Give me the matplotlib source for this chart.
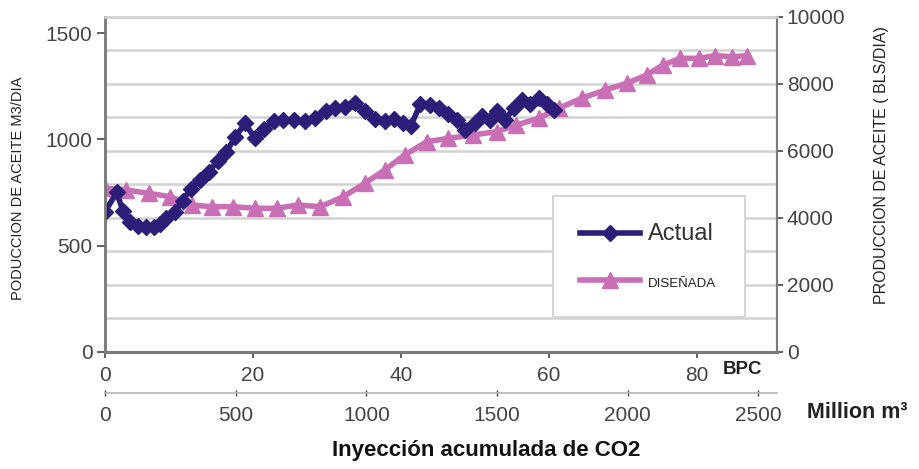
import matplotlib.pyplot as plt
from matplotlib.ticker import MultipleLocator

plt.rcParams["font.family"] = ["Liberation Sans", "DejaVu Sans"]

# Actual production (M3/DIA, left axis) vs cumulative CO2 injection (BPC)
actual_bpc = [0, 1.6, 2.4, 3.4, 4.4, 5.5, 6.6, 7.5, 8.3, 9.5, 10.5, 11.6, 12.8,
              14.0, 15.3, 16.4, 17.6, 18.9, 20.3, 21.5, 22.8, 24.1, 25.6, 27.0,
              28.4, 29.8, 31.1, 32.4, 33.8, 35.1, 36.5, 37.8, 39.1, 40.2, 41.3,
              42.6, 43.9, 45.1, 46.4, 47.6, 48.7, 50.0, 51.0, 52.0, 53.0, 54.1,
              55.2, 56.3, 57.4, 58.6, 59.7, 60.7]
actual_m3 = [660, 750, 665, 612, 590, 588, 588, 600, 632, 660, 712, 768, 808,
             848, 900, 942, 1010, 1075, 1005, 1050, 1088, 1090, 1090, 1085,
             1100, 1135, 1150, 1152, 1170, 1135, 1098, 1085, 1095, 1075, 1062,
             1165, 1160, 1150, 1122, 1090, 1045, 1075, 1110, 1090, 1135, 1090,
             1150, 1185, 1165, 1195, 1165, 1140]

# Designed production (BLS/DIA, right axis)
design_bpc = [0, 2.9, 5.9, 8.8, 11.7, 14.4, 17.3, 20.3, 23.2, 26.1, 29.1, 32.2,
              35.1, 37.8, 40.5, 43.5, 46.4, 49.7, 52.9, 55.6, 58.6, 61.3, 64.4,
              67.6, 70.5, 73.2, 75.4, 77.7, 80.2, 82.4, 84.7, 86.7]
design_bls = [4880, 4827, 4728, 4627, 4379, 4328, 4328, 4281, 4281, 4379, 4328,
              4627, 5027, 5424, 5872, 6269, 6370, 6469, 6567, 6767, 6967, 7266,
              7564, 7812, 8012, 8260, 8558, 8758, 8758, 8836, 8806, 8836]

BPC_TO_MM3 = 28.3168
grey = "#7a7a7a"
tick_col = "#444444"

fig = plt.figure(figsize=(9.2, 4.69), dpi=100)
ax = fig.add_axes([0.1141, 0.2501, 0.7305, 0.7143])
ax2 = ax.twinx()

# right axis (drawn underneath): grid + designed curve
ax2.set_ylim(0, 10000)
ax2.yaxis.set_major_locator(MultipleLocator(2000))
ax2.yaxis.set_minor_locator(MultipleLocator(1000))
ax2.grid(True, which="both", axis="y", color="#d2d2d2", linewidth=1.8)
ax2.set_axisbelow(True)
ln2, = ax2.plot(design_bpc, design_bls, color="#c96fb5", linewidth=4,
                marker="^", markersize=11, label="DISEÑADA")

# left axis on top: actual
ax.set_zorder(ax2.get_zorder() + 1)
ax.patch.set_visible(False)
ln1, = ax.plot(actual_bpc, actual_m3, color="#2b1d78", linewidth=4,
               marker="D", markersize=8.5, label="Actual")

ax.set_xlim(0, 90.8)
ax.set_ylim(0, 1578)
ax.xaxis.set_major_locator(MultipleLocator(20))
ax.yaxis.set_major_locator(MultipleLocator(500))

ax.tick_params(axis="y", labelsize=15, colors=tick_col, length=6, width=1.2,
               pad=3)
ax.tick_params(axis="x", labelsize=15, colors=tick_col, length=4, width=1.2,
               pad=6)
ax2.tick_params(axis="y", which="major", labelsize=15, colors=tick_col,
                length=4, width=1.2, pad=3)
ax2.tick_params(axis="y", which="minor", length=0)

for a in (ax, ax2):
    a.spines["top"].set_color("#d2d2d2")
    a.spines["top"].set_linewidth(1.8)
    a.spines["left"].set_color(grey)
    a.spines["left"].set_linewidth(1.8)
    a.spines["bottom"].set_color(grey)
    a.spines["bottom"].set_linewidth(2.2)
    a.spines["right"].set_color(grey)
    a.spines["right"].set_linewidth(1.5)

# secondary x axis in million m3
sec = ax.secondary_xaxis(-0.122, functions=(lambda x: x * BPC_TO_MM3,
                                            lambda x: x / BPC_TO_MM3))
sec.set_xticks([0, 500, 1000, 1500, 2000, 2500])
sec.spines["bottom"].set_color("#b5b5b5")
sec.spines["bottom"].set_linewidth(1.2)
sec.tick_params(labelsize=15, colors=tick_col, length=4, width=1.0,
                direction="inout", pad=8)

fig.text(0.786, 1 - 369 / 469, "BPC", fontsize=13.5, fontweight="bold",
         ha="left", va="center", color="#222222")
fig.text(0.877, 1 - 412 / 469, "Million m³", fontsize=15.5, fontweight="bold",
         ha="left", va="center", color="#222222")
fig.text(0.528, 1 - 450 / 469, "Inyección acumulada de CO2", fontsize=16,
         fontweight="bold", ha="center", va="center", color="#111111")
fig.text(0.020, 1 - 188 / 469, "PODUCCION DE ACEITE M3/DIA", fontsize=10.5,
         rotation=90, ha="center", va="center", color="#222222")
fig.text(0.958, 1 - 165 / 469, "PRODUCCION DE ACEITE ( BLS/DIA)", fontsize=11.5,
         rotation=90, ha="center", va="center", color="#222222")

leg = ax.legend(handles=[ln1, ln2], loc="lower left",
                bbox_to_anchor=(0.601, 0.324, 0.209, 0.260),
                bbox_transform=fig.transFigure, mode="expand",
                borderaxespad=0, fontsize=15, numpoints=1, handlelength=2.9,
                handletextpad=0.35, labelspacing=1.3, borderpad=1.3,
                fancybox=False, framealpha=1, edgecolor="#d6d6d6")
leg.get_frame().set_linewidth(1.5)
leg.get_texts()[0].set_fontsize(17)
leg.get_texts()[0].set_color("#333333")
leg.get_texts()[1].set_fontsize(9.5)
leg.get_texts()[1].set_color("#222222")

fig.savefig("out.png", dpi=100)
